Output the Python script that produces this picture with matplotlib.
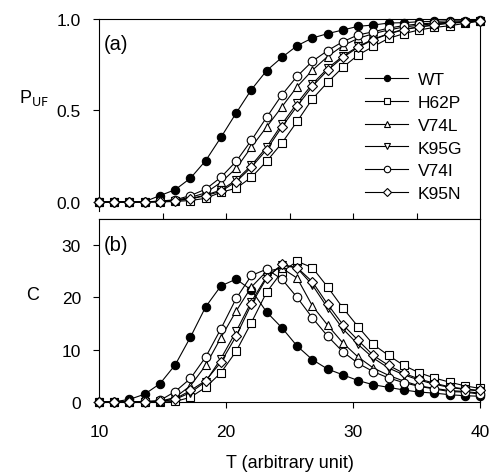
import numpy as np
import matplotlib.pyplot as plt

plt.rcParams['font.family'] = ['Liberation Sans', 'DejaVu Sans']

# temperature grid (26 points, 10..40)
T = [10 + 1.2 * i for i in range(26)]

names = ["WT", "H62P", "V74L", "K95G", "V74I", "K95N"]

p_uf = {
    "WT": [0, 0, 0, 0.002, 0.035, 0.067, 0.13, 0.226, 0.353, 0.486, 0.614, 0.718, 0.79,
           0.854, 0.896, 0.92, 0.94, 0.96, 0.967, 0.978, 0.98, 0.985, 0.987, 0.99, 0.99, 0.993],
    "H62P": [0, 0, 0, 0, 0, 0.003, 0.008, 0.02, 0.053, 0.075, 0.135, 0.222, 0.322, 0.44,
             0.563, 0.654, 0.736, 0.803, 0.85, 0.894, 0.92, 0.94, 0.954, 0.963, 0.976, 0.989],
    "V74L": [0, 0, 0, 0, 0.004, 0.01, 0.025, 0.05, 0.107, 0.184, 0.30, 0.41, 0.52, 0.63,
             0.72, 0.795, 0.854, 0.894, 0.92, 0.94, 0.956, 0.966, 0.974, 0.98, 0.985, 0.989],
    "K95G": [0, 0, 0, 0, 0.003, 0.008, 0.018, 0.038, 0.065, 0.12, 0.20, 0.30, 0.425, 0.54,
             0.645, 0.73, 0.797, 0.85, 0.89, 0.92, 0.944, 0.957, 0.968, 0.978, 0.982, 0.989],
    "V74I": [0, 0, 0, 0, 0.005, 0.012, 0.035, 0.07, 0.135, 0.222, 0.337, 0.463, 0.585, 0.687,
             0.769, 0.827, 0.876, 0.913, 0.93, 0.95, 0.964, 0.973, 0.978, 0.982, 0.985, 0.989],
    "K95N": [0, 0, 0, 0, 0.002, 0.007, 0.016, 0.035, 0.058, 0.111, 0.19, 0.286, 0.41, 0.524,
             0.632, 0.72, 0.79, 0.845, 0.887, 0.918, 0.942, 0.956, 0.967, 0.978, 0.982, 0.989],
}

heat_c = {
    "WT": [0, 0.05, 0.5, 1.5, 3.5, 7.1, 12.4, 18.2, 22.2, 23.5, 21.4, 17.2, 14.2, 10.7, 8.1,
           6.3, 5.2, 4.1, 3.3, 2.8, 2.3, 1.9, 1.7, 1.4, 1.2, 1.1],
    "H62P": [0, 0, 0, 0, 0, 0.1, 0.9, 2.8, 5.6, 9.7, 15.2, 21.0, 24.9, 26.9, 25.7, 22.0, 18.0,
             14.4, 11.0, 8.9, 7.0, 5.6, 4.6, 3.8, 3.1, 2.6],
    "V74L": [0, 0, 0, 0, 0.1, 0.9, 3.1, 7.0, 12.3, 17.4, 22.0, 25.0, 25.6, 23.7, 18.4, 14.7,
             11.3, 8.6, 6.5, 5.1, 4.0, 3.1, 2.6, 2.2, 2.0, 1.7],
    "K95G": [0, 0, 0, 0, 0.1, 0.5, 1.8, 3.9, 8.3, 13.5, 19.2, 24.0, 26.2, 25.6, 22.4, 18.0,
             14.0, 11.0, 8.4, 6.5, 5.2, 4.2, 3.4, 2.8, 2.4, 2.1],
    "V74I": [0, 0, 0, 0.1, 0.3, 2.0, 4.5, 8.6, 14.0, 19.8, 24.2, 25.4, 23.5, 20.0, 16.1, 12.6,
             9.6, 7.4, 5.8, 4.6, 3.7, 3.0, 2.5, 2.0, 1.9, 1.5],
    "K95N": [0, 0, 0, 0, 0.1, 0.6, 2.2, 4.1, 7.6, 12.6, 18.7, 23.7, 26.3, 25.7, 23.0, 18.7,
             14.8, 11.8, 8.9, 7.0, 5.5, 4.4, 3.6, 2.9, 2.5, 2.2],
}

markers = {"WT": "o", "H62P": "s", "V74L": "^", "K95G": "v", "V74I": "o", "K95N": "D"}
msizes = {"WT": 6, "H62P": 5.5, "V74L": 6, "K95G": 6, "V74I": 6.2, "K95N": 5}

fig = plt.figure(figsize=(4.93, 4.77), dpi=100)
ax1 = fig.add_axes([99 / 493, 1 - 220 / 477, 381 / 493, 200 / 477])
ax2 = fig.add_axes([99 / 493, 1 - 403 / 477, 381 / 493, 183 / 477])

for ax, data in ((ax1, p_uf), (ax2, heat_c)):
    for n in names:
        face = "black" if n == "WT" else "white"
        ax.plot(T, data[n], color="black", lw=0.8, marker=markers[n],
                ms=msizes[n], mfc=face, mec="black", mew=0.8, label=n,
                clip_on=False, zorder=3)
    ax.set_xlim(10, 40)
    ax.tick_params(axis="y", direction="out", length=4, width=0.8, labelsize=12.5, pad=9)
    for s in ax.spines.values():
        s.set_linewidth(0.8)

ax1.set_ylim(-0.093, 1.0)
ax1.set_yticks([0.0, 0.5, 1.0])
ax1.set_yticklabels(["0.0", "0.5", "1.0"])
ax1.set_xticks([15, 20, 25, 30, 35])
ax1.tick_params(axis="x", direction="in", length=4, width=0.8, labelbottom=False)
ax1.spines["left"].set_bounds(-0.05, 1.0)
ax1.text(0.012, 0.85, "(a)", transform=ax1.transAxes, fontsize=14.5)
ax1.set_ylabel(r"P$_{\mathrm{UF}}$", fontsize=13, rotation=0, labelpad=0)
ax1.yaxis.set_label_coords(-0.17, 0.56)

ax2.set_ylim(0, 35)
ax2.set_yticks([0, 10, 20, 30])
ax2.set_xticks([10, 20, 30, 40])
ax2.tick_params(axis="x", direction="out", length=4, width=0.8, labelsize=12.5, pad=12)
ax2.text(0.012, 0.83, "(b)", transform=ax2.transAxes, fontsize=14.5)
ax2.set_ylabel("C", fontsize=13, rotation=0, labelpad=0)
ax2.yaxis.set_label_coords(-0.175, 0.54)
ax2.set_xlabel("T (arbitrary unit)", fontsize=13, labelpad=11)

handles, labels = ax1.get_legend_handles_labels()
leg = ax1.legend(handles, labels, loc="upper left", bbox_to_anchor=(0.698, 0.735),
                 frameon=False, fontsize=12.5, handlelength=2.5, handletextpad=0.55,
                 labelspacing=0.44, markerscale=0.75, borderpad=0, borderaxespad=0)

plt.savefig("out.png", dpi=100)
